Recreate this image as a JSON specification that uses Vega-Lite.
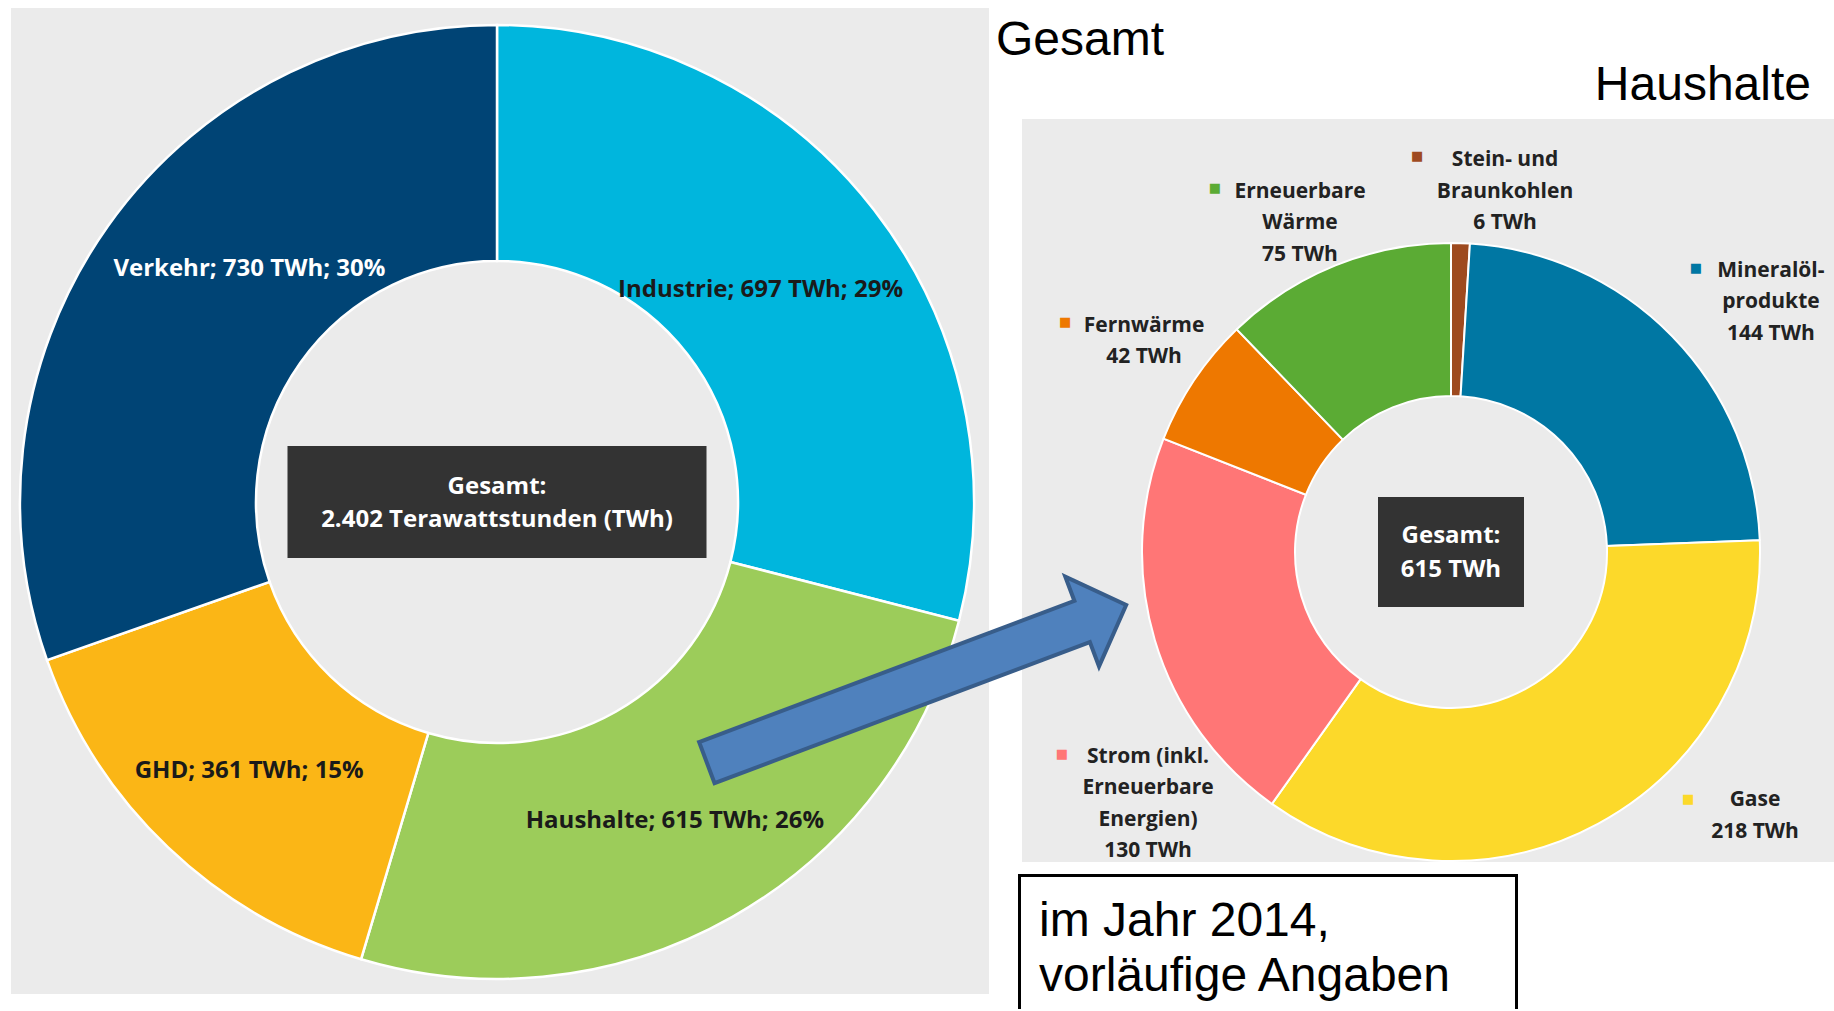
{
  "$schema": "https://vega.github.io/schema/vega-lite/v6.json",
  "padding": 0,
  "background": "white",
  "config": {"view": {"stroke": null}, "font": "Open Sans"},
  "datasets": {
    "gesamt": [
      {"sektor": "Industrie", "twh": 697, "anteil": 29, "idx": 1, "label": "Industrie; 697 TWh; 29%"},
      {"sektor": "Haushalte", "twh": 615, "anteil": 26, "idx": 2, "label": "Haushalte; 615 TWh; 26%"},
      {"sektor": "GHD", "twh": 361, "anteil": 15, "idx": 3, "label": "GHD; 361 TWh; 15%"},
      {"sektor": "Verkehr", "twh": 730, "anteil": 30, "idx": 4, "label": "Verkehr; 730 TWh; 30%"}
    ],
    "haushalte": [
      {"sektor": "Stein- und Braunkohlen", "twh": 6, "idx": 1, "label": "Stein- und\nBraunkohlen\n6 TWh"},
      {"sektor": "Mineralölprodukte", "twh": 144, "idx": 2, "label": "Mineralöl-\nprodukte\n144 TWh"},
      {"sektor": "Gase", "twh": 218, "idx": 3, "label": "Gase\n218 TWh"},
      {"sektor": "Strom (inkl. Erneuerbare Energien)", "twh": 130, "idx": 4, "label": "Strom (inkl.\nErneuerbare\nEnergien)\n130 TWh"},
      {"sektor": "Fernwärme", "twh": 42, "idx": 5, "label": "Fernwärme\n42 TWh"},
      {"sektor": "Erneuerbare Wärme", "twh": 75, "idx": 6, "label": "Erneuerbare\nWärme\n75 TWh"}
    ],
    "note": [{"id": 1}]
  },
  "bounds": "flush",
  "spacing": 74,
  "hconcat": [
    {
      "width": 994,
      "height": 1004,
      "data": {"name": "gesamt"},
      "transform": [
        {"stack": "twh", "groupby": [], "sort": [{"field": "idx", "order": "ascending"}], "as": ["t0", "t1"]},
        {"calculate": "(datum.t0 + datum.t1) / 2", "as": "tm"}
      ],
      "layer": [
        {
          "data": {"name": "note"},
          "mark": {"type": "rect", "x": 11, "x2": 989, "y": 8, "y2": 994, "fill": "#ebebeb"},
          "encoding": {}
        },
        {
          "mark": {"type": "arc", "outerRadius": 477, "innerRadius": 241, "stroke": "white", "strokeWidth": 2.5},
          "encoding": {
            "theta": {"field": "t0", "type": "quantitative", "scale": {"domain": [0, 2403], "zero": true, "nice": false}},
            "theta2": {"field": "t1"},
            "color": {
              "field": "sektor", "type": "nominal", "legend": null,
              "scale": {
                "domain": ["Industrie", "Haushalte", "GHD", "Verkehr", "Stein- und Braunkohlen", "Mineralölprodukte", "Gase", "Strom (inkl. Erneuerbare Energien)", "Fernwärme", "Erneuerbare Wärme"],
                "range": ["#00b6dd", "#9ccc5a", "#fbb616", "#004475", "#9e4a1f", "#0077a3", "#fcd92a", "#ff7676", "#ee7800", "#5bab34"]
              }
            }
          }
        },
        {
          "data": {"name": "note"},
          "mark": {"type": "point", "shape": "M-1,-0.2673H1V0.2673H-1Z", "size": 175561, "filled": true, "color": "#333333", "opacity": 1, "strokeWidth": 0},
          "encoding": {}
        },
        {
          "data": {"name": "note"},
          "mark": {"type": "text", "text": "Gesamt:\n2.402 Terawattstunden (TWh)", "lineBreak": "\n", "lineHeight": 33, "dy": -15, "font": "Open Sans", "fontWeight": "bold", "fontSize": 24, "fill": "white", "align": "center", "baseline": "middle"},
          "encoding": {}
        },
        {
          "transform": [{"filter": "datum.idx == 1"}],
          "mark": {"type": "text", "radius": 355, "dx": -17, "dy": 6, "font": "Open Sans", "fontWeight": "bold", "fontSize": 24, "fill": "#1a1a1a", "align": "center", "baseline": "middle"},
          "encoding": {"theta": {"field": "tm", "type": "quantitative"}, "text": {"field": "label"}}
        },
        {
          "transform": [{"filter": "datum.idx == 2"}],
          "mark": {"type": "text", "radius": 355, "dx": 3, "dy": 10, "font": "Open Sans", "fontWeight": "bold", "fontSize": 24, "fill": "#1a1a1a", "align": "center", "baseline": "middle"},
          "encoding": {"theta": {"field": "tm", "type": "quantitative"}, "text": {"field": "label"}}
        },
        {
          "transform": [{"filter": "datum.idx == 3"}],
          "mark": {"type": "text", "radius": 355, "dx": -3, "dy": 12, "font": "Open Sans", "fontWeight": "bold", "fontSize": 24, "fill": "#1a1a1a", "align": "center", "baseline": "middle"},
          "encoding": {"theta": {"field": "tm", "type": "quantitative"}, "text": {"field": "label"}}
        },
        {
          "transform": [{"filter": "datum.idx == 4"}],
          "mark": {"type": "text", "radius": 355, "dx": 42, "dy": -28, "font": "Open Sans", "fontWeight": "bold", "fontSize": 24, "fill": "white", "align": "center", "baseline": "middle"},
          "encoding": {"theta": {"field": "tm", "type": "quantitative"}, "text": {"field": "label"}}
        }
      ]
    },
    {
      "bounds": "flush",
      "spacing": 8,
      "vconcat": [
        {
          "width": 766,
          "height": 85,
          "data": {"name": "note"},
          "layer": [
            {
              "mark": {"type": "text", "text": "Gesamt", "x": -72, "y": 55, "font": "Liberation Sans", "fontSize": 48, "fill": "black", "align": "left", "baseline": "alphabetic"},
              "encoding": {}
            },
            {
              "mark": {"type": "text", "text": "Haushalte", "x": 743, "y": 100, "font": "Liberation Sans", "fontSize": 48, "fill": "black", "align": "right", "baseline": "alphabetic"},
              "encoding": {}
            }
          ]
        },
        {
          "width": 766,
          "height": 918,
          "data": {"name": "haushalte"},
          "transform": [
            {"stack": "twh", "groupby": [], "sort": [{"field": "idx", "order": "ascending"}], "as": ["t0", "t1"]},
            {"calculate": "(datum.t0 + datum.t1) / 2", "as": "tm"}
          ],
          "layer": [
            {
              "data": {"name": "note"},
              "mark": {"type": "rect", "x": -46, "x2": 766, "y": 26, "y2": 769, "fill": "#ebebeb"},
              "encoding": {}
            },
            {
              "mark": {"type": "arc", "outerRadius": 309, "innerRadius": 156, "stroke": "white", "strokeWidth": 2},
              "encoding": {
                "theta": {"field": "t0", "type": "quantitative", "scale": {"domain": [0, 615], "zero": true, "nice": false}},
                "theta2": {"field": "t1"},
                "color": {"field": "sektor", "type": "nominal", "legend": null}
              }
            },
            {
              "data": {"name": "note"},
              "mark": {"type": "point", "shape": "M-1,-0.7534H1V0.7534H-1Z", "size": 21316, "filled": true, "color": "#333333", "opacity": 1, "strokeWidth": 0},
              "encoding": {}
            },
            {
              "data": {"name": "note"},
              "mark": {"type": "text", "text": "Gesamt:\n615 TWh", "lineBreak": "\n", "lineHeight": 34, "dy": -16, "font": "Open Sans", "fontWeight": "bold", "fontSize": 24, "fill": "white", "align": "center", "baseline": "middle"},
              "encoding": {}
            },
            {
              "transform": [{"filter": "datum.idx == 1"}],
              "mark": {"type": "text", "radius": 370, "dx": 42.7, "dy": -21.7, "lineBreak": "\n", "lineHeight": 31.5, "font": "Open Sans", "fontWeight": "bold", "fontSize": 21, "fill": "#222222", "align": "center", "baseline": "middle"},
              "encoding": {"theta": {"field": "tm", "type": "quantitative"}, "text": {"field": "label"}}
            },
            {
              "transform": [{"filter": "datum.idx == 2"}],
              "mark": {"type": "text", "radius": 370, "dx": 55.3, "dy": -22.4, "lineBreak": "\n", "lineHeight": 31.5, "font": "Open Sans", "fontWeight": "bold", "fontSize": 21, "fill": "#222222", "align": "center", "baseline": "middle"},
              "encoding": {"theta": {"field": "tm", "type": "quantitative"}, "text": {"field": "label"}}
            },
            {
              "transform": [{"filter": "datum.idx == 3"}],
              "mark": {"type": "text", "radius": 370, "dx": 128.1, "dy": -77, "lineBreak": "\n", "lineHeight": 31.5, "font": "Open Sans", "fontWeight": "bold", "fontSize": 21, "fill": "#222222", "align": "center", "baseline": "middle"},
              "encoding": {"theta": {"field": "tm", "type": "quantitative"}, "text": {"field": "label"}}
            },
            {
              "transform": [{"filter": "datum.idx == 4"}],
              "mark": {"type": "text", "radius": 370, "dx": 51.7, "dy": 99.5, "lineBreak": "\n", "lineHeight": 31.5, "font": "Open Sans", "fontWeight": "bold", "fontSize": 21, "fill": "#222222", "align": "center", "baseline": "middle"},
              "encoding": {"theta": {"field": "tm", "type": "quantitative"}, "text": {"field": "label"}}
            },
            {
              "transform": [{"filter": "datum.idx == 5"}],
              "mark": {"type": "text", "radius": 370, "dx": 0.5, "dy": -20.2, "lineBreak": "\n", "lineHeight": 31.5, "font": "Open Sans", "fontWeight": "bold", "fontSize": 21, "fill": "#222222", "align": "center", "baseline": "middle"},
              "encoding": {"theta": {"field": "tm", "type": "quantitative"}, "text": {"field": "label"}}
            },
            {
              "transform": [{"filter": "datum.idx == 6"}],
              "mark": {"type": "text", "radius": 370, "dx": -12.7, "dy": -17.3, "lineBreak": "\n", "lineHeight": 31.5, "font": "Open Sans", "fontWeight": "bold", "fontSize": 21, "fill": "#222222", "align": "center", "baseline": "middle"},
              "encoding": {"theta": {"field": "tm", "type": "quantitative"}, "text": {"field": "label"}}
            },
            {
              "transform": [{"filter": "datum.idx == 1"}],
              "mark": {"type": "text", "text": "■", "radius": 370, "dx": -45.3, "dy": -25.7, "font": "DejaVu Sans", "fontSize": 13, "align": "center", "baseline": "middle"},
              "encoding": {"theta": {"field": "tm", "type": "quantitative"}, "color": {"field": "sektor", "type": "nominal", "legend": null}}
            },
            {
              "transform": [{"filter": "datum.idx == 2"}],
              "mark": {"type": "text", "text": "■", "radius": 370, "dx": -19.7, "dy": -25.4, "font": "DejaVu Sans", "fontSize": 13, "align": "center", "baseline": "middle"},
              "encoding": {"theta": {"field": "tm", "type": "quantitative"}, "color": {"field": "sektor", "type": "nominal", "legend": null}}
            },
            {
              "transform": [{"filter": "datum.idx == 3"}],
              "mark": {"type": "text", "text": "■", "radius": 370, "dx": 61.1, "dy": -78.5, "font": "DejaVu Sans", "fontSize": 13, "align": "center", "baseline": "middle"},
              "encoding": {"theta": {"field": "tm", "type": "quantitative"}, "color": {"field": "sektor", "type": "nominal", "legend": null}}
            },
            {
              "transform": [{"filter": "datum.idx == 4"}],
              "mark": {"type": "text", "text": "■", "radius": 370, "dx": -34.3, "dy": 96.7, "font": "DejaVu Sans", "fontSize": 13, "align": "center", "baseline": "middle"},
              "encoding": {"theta": {"field": "tm", "type": "quantitative"}, "color": {"field": "sektor", "type": "nominal", "legend": null}}
            },
            {
              "transform": [{"filter": "datum.idx == 5"}],
              "mark": {"type": "text", "text": "■", "radius": 370, "dx": -78.5, "dy": -24.2, "font": "DejaVu Sans", "fontSize": 13, "align": "center", "baseline": "middle"},
              "encoding": {"theta": {"field": "tm", "type": "quantitative"}, "color": {"field": "sektor", "type": "nominal", "legend": null}}
            },
            {
              "transform": [{"filter": "datum.idx == 6"}],
              "mark": {"type": "text", "text": "■", "radius": 370, "dx": -97.7, "dy": -20.8, "font": "DejaVu Sans", "fontSize": 13, "align": "center", "baseline": "middle"},
              "encoding": {"theta": {"field": "tm", "type": "quantitative"}, "color": {"field": "sektor", "type": "nominal", "legend": null}}
            },
            {
              "data": {"name": "note"},
              "mark": {"type": "point", "shape": "M-1,-0.098L0.79,-0.098L0.79,-0.214L1,0L0.79,0.214L0.79,0.098L-1,0.098Z", "size": 200704, "angle": -20.6, "x": -151.5, "y": 590.75, "filled": true, "fill": "#4f81bd", "stroke": "#385d8a", "strokeWidth": 4, "opacity": 1},
              "encoding": {}
            },
            {
              "data": {"name": "note"},
              "mark": {"type": "rect", "x": -50, "x2": 450, "y": 781, "y2": 918, "fill": "white"},
              "encoding": {}
            },
            {
              "data": {"name": "note"},
              "mark": {"type": "rule", "stroke": "black", "strokeWidth": 3},
              "encoding": {"x": {"value": -48.5}, "y": {"value": 781}, "y2": {"value": 916}}
            },
            {
              "data": {"name": "note"},
              "mark": {"type": "rule", "stroke": "black", "strokeWidth": 3},
              "encoding": {"x": {"value": 448.5}, "y": {"value": 781}, "y2": {"value": 916}}
            },
            {
              "data": {"name": "note"},
              "mark": {"type": "rule", "stroke": "black", "strokeWidth": 3},
              "encoding": {"x": {"value": -50}, "x2": {"value": 450}, "y": {"value": 782.5}}
            },
            {
              "data": {"name": "note"},
              "mark": {"type": "text", "text": "im Jahr 2014,", "x": -29, "y": 843, "font": "Liberation Sans", "fontSize": 48, "fill": "black", "align": "left", "baseline": "alphabetic"},
              "encoding": {}
            },
            {
              "data": {"name": "note"},
              "mark": {"type": "text", "text": "vorläufige Angaben", "x": -29, "y": 898, "font": "Liberation Sans", "fontSize": 48, "fill": "black", "align": "left", "baseline": "alphabetic"},
              "encoding": {}
            }
          ]
        }
      ]
    }
  ]
}
